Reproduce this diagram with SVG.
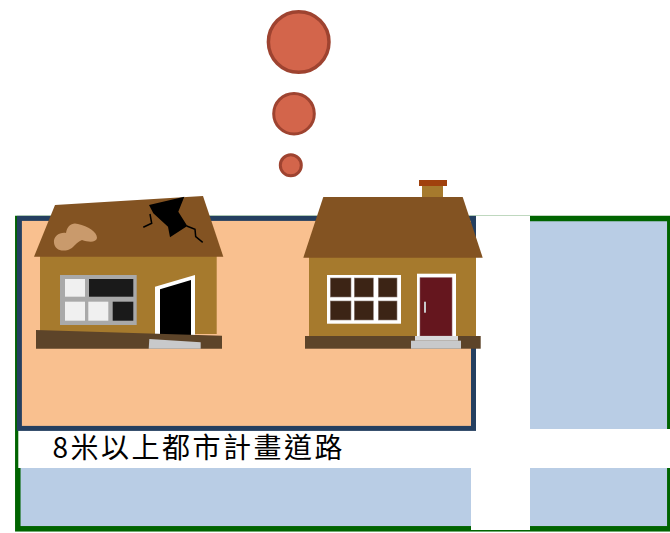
<svg xmlns="http://www.w3.org/2000/svg" width="670" height="533" viewBox="0 0 670 533">
  <style>
    .roof { fill: #835322; }
    .wall { fill: #A67A2D; }
    .base { fill: #5D4429; }
    .step { fill: #C8C9CB; }
    .bubble { fill: #D3654B; stroke: #9E4330; }
    .label { font-family: "Noto Sans CJK TC", "Noto Sans CJK SC", "Noto Sans", sans-serif; font-size: 28px; fill: #000; }
  </style>

  <!-- thought bubbles -->
  <g id="bubbles">
    <circle class="bubble" cx="298.7" cy="42" r="30.3" stroke-width="3.5"/>
    <circle class="bubble" cx="294" cy="113.7" r="20.3" stroke-width="3"/>
    <circle class="bubble" cx="290.8" cy="165.3" r="10.5" stroke-width="3"/>
  </g>

  <!-- land area with roads -->
  <g id="land">
    <rect x="17.8" y="218.5" width="652" height="310.3" fill="#B9CDE5" stroke="#006400" stroke-width="5.5"/>
  </g>
  <g id="roads">
    <rect x="471" y="216" width="59" height="314" fill="#FFFFFF"/>
    <rect x="18.3" y="429" width="651.7" height="39" fill="#FFFFFF"/>
    <text class="label" x="52.5" y="458" textLength="290" lengthAdjust="spacing">8米以上都市計畫道路</text>
  </g>

  <!-- building plot -->
  <g id="plot">
    <rect x="19.4" y="218.4" width="454.1" height="210" fill="#F9C08F" stroke="#243F60" stroke-width="5"/>
  </g>

  <!-- old, damaged house -->
  <g id="old-house">
    <rect class="wall" x="40" y="256" width="176.7" height="78"/>
    <polygon class="roof" points="55,205 203,196 223.3,256.7 34,256.7"/>
    <path d="M54 243 C53 236 60 232 66 233 C67 226 72 222 78 224 C88 226 97 232 97 238 C96 243 88 242 82 240 C76 242 74 248 68 250 C60 252 55 249 54 243 Z" fill="#C99A6C"/>
    <polygon points="149,205 184.3,196.7 178.3,211.7 187.3,226 170,237.3 168,226.7 153.3,213.3" fill="#000"/>
    <polyline points="150,214 151.7,223.3 143.3,227.3" fill="none" stroke="#000" stroke-width="1.5"/>
    <polyline points="186.7,226 195,229.3 195.7,236.7 202.7,242.3" fill="none" stroke="#000" stroke-width="1.5"/>
    <!-- window -->
    <rect x="60" y="275" width="76.7" height="50" fill="#A9A9A9"/>
    <rect x="65" y="279" width="20" height="17.7" fill="#F0F0F0"/>
    <rect x="89" y="279" width="44.3" height="17.7" fill="#1A1A1A"/>
    <rect x="65" y="301.7" width="20" height="19" fill="#F0F0F0"/>
    <rect x="88.3" y="301.7" width="20" height="19" fill="#F0F0F0"/>
    <rect x="112.7" y="301.7" width="20.6" height="19" fill="#1A1A1A"/>
    <!-- door -->
    <polygon points="155,286.7 195,275 195,336 155,336" fill="#FFFFFF"/>
    <polygon points="160,289.3 191,280 191,336 160,336" fill="#000"/>
    <!-- tilted foundation -->
    <polygon class="base" points="36,330 222,335.7 222,348.7 36,348.7"/>
    <polygon class="step" points="149.3,339 200.7,342.3 200.7,348.7 148.7,348.7"/>
  </g>

  <!-- new house -->
  <g id="new-house">
    <rect x="419" y="180" width="28" height="6" fill="#A0410D"/>
    <rect class="wall" x="422" y="186" width="21" height="12"/>
    <rect class="wall" x="309" y="257" width="167" height="80"/>
    <polygon class="roof" points="323.3,197 462.7,197 482.7,257.7 303.3,257.7"/>
    <!-- window -->
    <rect x="327" y="275" width="74" height="48.7" fill="#FFFFFF"/>
    <g fill="#3C2415" stroke="#8A7A74" stroke-width="0.6">
      <rect x="330.3" y="278" width="20.7" height="19"/>
      <rect x="354.3" y="278" width="19" height="19"/>
      <rect x="378.3" y="278" width="18.7" height="19"/>
      <rect x="330.3" y="301" width="20.7" height="19"/>
      <rect x="354.3" y="301" width="19" height="19"/>
      <rect x="378.3" y="301" width="18.7" height="19"/>
    </g>
    <!-- door -->
    <rect x="417" y="273.7" width="39" height="63" fill="#FFFFFF"/>
    <rect x="420" y="277.7" width="32" height="58.3" fill="#65161E" stroke="#8A5A60" stroke-width="0.6"/>
    <rect x="424" y="301.7" width="2" height="11" fill="#C8C9CB"/>
    <!-- foundation and steps -->
    <rect class="base" x="305" y="336" width="175.7" height="12.7"/>
    <rect x="415" y="336" width="43" height="4.7" fill="#D9DADC"/>
    <rect class="step" x="411" y="340.7" width="50" height="8"/>
  </g>
</svg>
